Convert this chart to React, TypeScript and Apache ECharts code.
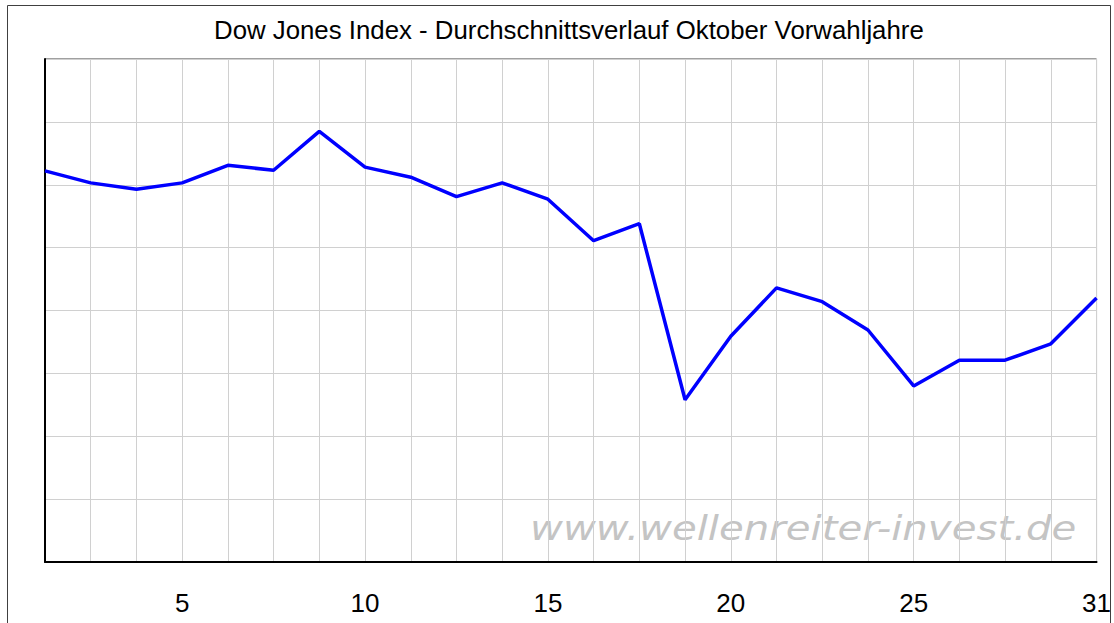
import React, { useEffect, useRef } from "react";
import * as echarts from "echarts";

const title = "Dow Jones Index - Durchschnittsverlauf Oktober Vorwahljahre";
const watermark = "www.wellenreiter-invest.de";
const days = ["1", "2", "3", "5", "6", "7", "8", "10", "11", "12", "13", "15", "16", "17", "18", "20", "21", "22", "23", "25", "26", "27", "28", "31"];
const shownLabels = ["5", "10", "15", "20", "25", "31"];
const values = [6.22, 6.03, 5.93, 6.03, 6.31, 6.23, 6.85, 6.28, 6.12, 5.81, 6.03, 5.77, 5.11, 5.38, 2.58, 3.59, 4.36, 4.14, 3.69, 2.8, 3.21, 3.21, 3.47, 4.2];

export default function App() {
  const ref = useRef<HTMLDivElement>(null);
  useEffect(() => {
    document.body.style.margin = "0";
    const chart = echarts.init(ref.current!, null, { renderer: "svg" });
    chart.setOption({
      animation: false,
      backgroundColor: "#ffffff",
      title: {
        text: title,
        left: 209,
        top: 12,
        textStyle: { fontFamily: "Liberation Sans", fontSize: 25.8, fontWeight: "normal", color: "#000" },
      },
      graphic: [
        {
          type: "rect",
          shape: { x: 7.5, y: 5.5, width: 1103, height: 700 },
          style: { fill: "none", stroke: "#404040", lineWidth: 1 },
          silent: true,
          z: 100,
        },
        {
          type: "text",
          x: 530,
          y: 512,
          scaleX: 1.22,
          z: -1,
          style: {
            text: watermark,
            fontFamily: "DejaVu Sans",
            fontStyle: "italic",
            fontSize: 33,
            fill: "#c4c4c4",
            verticalAlign: "top",
          },
        },
      ],
      grid: {
        left: 45,
        top: 59,
        right: 16,
        bottom: 61,
        show: true,
        borderColor: "#404040",
        borderWidth: 1,
        backgroundColor: "transparent",
      },
      xAxis: {
        type: "category",
        data: days,
        boundaryGap: false,
        axisLine: { show: true, lineStyle: { color: "#000", width: 2 } },
        axisTick: { show: false },
        axisLabel: {
          interval: 0,
          formatter: (v: string) => (shownLabels.includes(v) ? v : ""),
          fontFamily: "Liberation Sans",
          fontSize: 26,
          color: "#000",
          margin: 28,
        },
        splitLine: { show: true, interval: 0, lineStyle: { color: "#d0d0d0", width: 1 } },
      },
      yAxis: {
        type: "value",
        min: 0,
        max: 8,
        interval: 1,
        axisLine: { show: true, lineStyle: { color: "#000", width: 2 } },
        axisTick: { show: false },
        axisLabel: { show: false },
        splitLine: { show: true, lineStyle: { color: "#d0d0d0", width: 1 } },
      },
      series: [
        {
          type: "line",
          data: values,
          symbol: "none",
          lineStyle: { color: "#0000ff", width: 3.5 },
          z: 5,
        },
      ],
    });
    return () => chart.dispose();
  }, []);
  return <div ref={ref} style={{ width: 1114, height: 623 }} />;
}
